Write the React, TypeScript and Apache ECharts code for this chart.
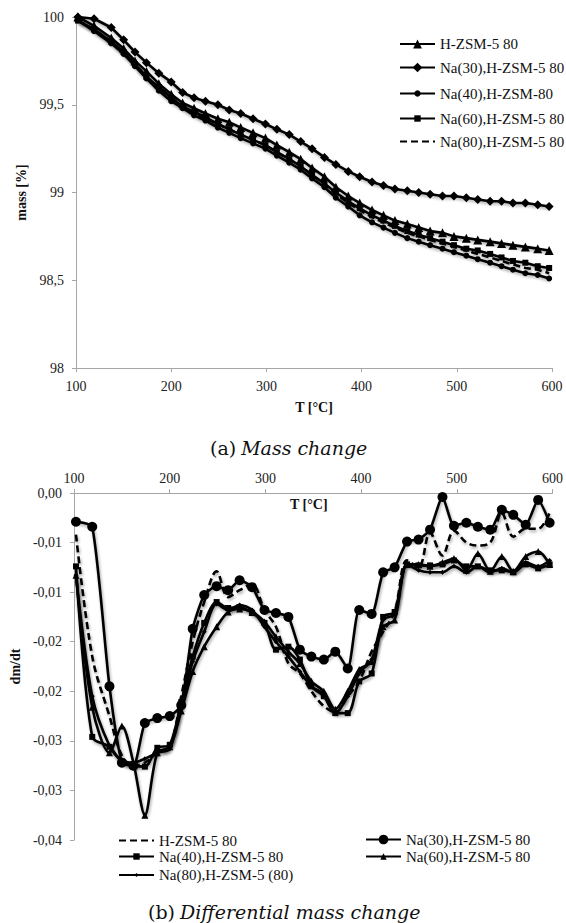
import React, { useEffect, useRef } from "react";
import * as echarts from "echarts";

// ---------- DATA ----------
const temps = [102, 119, 137, 150, 162, 174, 187, 200, 212, 224, 236, 249, 261, 273, 286, 299, 311, 324, 336, 348, 361, 373, 386, 398, 411, 423, 435, 448, 460, 472, 485, 497, 510, 522, 535, 547, 559, 572, 585, 597];

// (a) mass [%]
const massH = [100.0, 99.95, 99.88, 99.82, 99.75, 99.69, 99.62, 99.56, 99.51, 99.48, 99.45, 99.42, 99.4, 99.37, 99.34, 99.31, 99.27, 99.23, 99.19, 99.14, 99.09, 99.03, 98.98, 98.94, 98.9, 98.87, 98.84, 98.82, 98.8, 98.78, 98.77, 98.75, 98.74, 98.73, 98.72, 98.71, 98.7, 98.69, 98.68, 98.67];
const massNa30 = [100.0, 99.99, 99.94, 99.87, 99.8, 99.74, 99.68, 99.63, 99.57, 99.54, 99.52, 99.5, 99.47, 99.45, 99.42, 99.39, 99.36, 99.33, 99.29, 99.25, 99.2, 99.16, 99.12, 99.09, 99.06, 99.04, 99.02, 99.01, 99.0, 98.99, 98.98, 98.98, 98.97, 98.96, 98.95, 98.95, 98.94, 98.94, 98.93, 98.92];
const massNa40 = [99.98, 99.92, 99.85, 99.79, 99.72, 99.65, 99.58, 99.52, 99.48, 99.44, 99.41, 99.37, 99.34, 99.31, 99.28, 99.25, 99.21, 99.17, 99.13, 99.08, 99.03, 98.97, 98.92, 98.87, 98.83, 98.8, 98.77, 98.74, 98.72, 98.7, 98.68, 98.66, 98.64, 98.62, 98.6, 98.58, 98.56, 98.54, 98.53, 98.51];
const massNa60 = [99.98, 99.93, 99.86, 99.8, 99.73, 99.66, 99.6, 99.54, 99.49, 99.46, 99.43, 99.39, 99.36, 99.33, 99.3, 99.27, 99.23, 99.19, 99.15, 99.1, 99.05, 99.0, 98.95, 98.91, 98.87, 98.84, 98.81, 98.78, 98.76, 98.74, 98.72, 98.7, 98.68, 98.67, 98.65, 98.63, 98.61, 98.6, 98.58, 98.57];
const massNa80 = [99.98, 99.93, 99.86, 99.8, 99.73, 99.66, 99.6, 99.54, 99.49, 99.45, 99.42, 99.39, 99.36, 99.33, 99.3, 99.27, 99.23, 99.19, 99.15, 99.1, 99.05, 98.99, 98.94, 98.9, 98.86, 98.83, 98.8, 98.77, 98.75, 98.73, 98.71, 98.69, 98.67, 98.65, 98.63, 98.61, 98.59, 98.57, 98.56, 98.54];

// (b) dm/dt
const dmH = [-0.0042, -0.0165, -0.0225, -0.0265, -0.0275, -0.0272, -0.0262, -0.0256, -0.0205, -0.015, -0.011, -0.0079, -0.0105, -0.0098, -0.0092, -0.0118, -0.0135, -0.0172, -0.0182, -0.02, -0.0215, -0.0221, -0.0205, -0.019, -0.016, -0.014, -0.012, -0.0068, -0.0075, -0.004, -0.0063, -0.0038, -0.005, -0.0053, -0.005, -0.002, -0.0044, -0.0036, -0.0036, -0.002];
const dmNa30 = [-0.0029, -0.0034, -0.0195, -0.0272, -0.0275, -0.0232, -0.0227, -0.0225, -0.0214, -0.0137, -0.0103, -0.0094, -0.0098, -0.0088, -0.0095, -0.0118, -0.0121, -0.0125, -0.0158, -0.0165, -0.0168, -0.016, -0.0177, -0.0118, -0.0122, -0.008, -0.0075, -0.0049, -0.0047, -0.0037, -0.0004, -0.0033, -0.003, -0.0034, -0.0037, -0.0017, -0.0022, -0.0032, -0.0007, -0.003];
const dmNa40 = [-0.0074, -0.0246, -0.0256, -0.0271, -0.0275, -0.0276, -0.0257, -0.0254, -0.0211, -0.0165, -0.0131, -0.011, -0.0116, -0.0115, -0.0121, -0.0131, -0.0158, -0.0155, -0.0168, -0.0195, -0.0205, -0.0222, -0.0222, -0.019, -0.0182, -0.0125, -0.012, -0.0072, -0.0073, -0.0073, -0.0072, -0.0068, -0.0074, -0.0074, -0.0078, -0.0078, -0.008, -0.0072, -0.0076, -0.0072];
const dmNa60 = [-0.0083, -0.0216, -0.0262, -0.0235, -0.0272, -0.0325, -0.0262, -0.0256, -0.022, -0.018, -0.0155, -0.0135, -0.012, -0.0117, -0.012, -0.013, -0.0145, -0.016, -0.0172, -0.019, -0.02, -0.0218, -0.02, -0.0178, -0.017, -0.0135, -0.0128, -0.0072, -0.0072, -0.0074, -0.007, -0.0066, -0.0078, -0.0061, -0.0079, -0.0064, -0.0079, -0.0064, -0.0059, -0.0072];
const dmNa80 = [-0.0083, -0.0205, -0.0255, -0.027, -0.0272, -0.0268, -0.0262, -0.0258, -0.0215, -0.017, -0.014, -0.0112, -0.0118, -0.0113, -0.0118, -0.0135, -0.015, -0.0165, -0.018, -0.0195, -0.0203, -0.0222, -0.0205, -0.0182, -0.0168, -0.0128, -0.0122, -0.0072, -0.0078, -0.008, -0.008, -0.0074, -0.008, -0.0074, -0.008, -0.0076, -0.008, -0.007, -0.0074, -0.0068];

const dmTickLabels = ["0,00", "-0,01", "-0,01", "-0,02", "-0,02", "-0,03", "-0,03", "-0,04"];

// ---------- STYLE ----------
const SERIF = "'Liberation Serif', 'DejaVu Serif', serif";
const CAP = "'DejaVu Serif', serif";
const AX = "#a6a6a6";
const shadow = { shadowColor: "rgba(0,0,0,0.35)", shadowBlur: 3, shadowOffsetX: 1, shadowOffsetY: 2 };

const pairs = (xs: number[], ys: number[]) => xs.map((x, i) => [x, ys[i]]);

function lineSeries(name: string, vals: number[], symbol: string, size: number, dashed = false, smooth: number | boolean = false) {
  return {
    type: "line",
    name,
    data: pairs(temps, vals),
    symbol: symbol,
    symbolSize: size,
    showSymbol: size > 0,
    smooth,
    itemStyle: { color: "#000" },
    lineStyle: { color: "#000", width: 2.6, type: dashed ? [7, 4] : "solid", ...shadow },
  };
}

const axisText = { fontFamily: SERIF, fontSize: 14, color: "#222" };
const nameText = { fontFamily: SERIF, fontSize: 14, fontWeight: "bold", color: "#111" };
const legendText = { fontFamily: SERIF, fontSize: 15, color: "#111" };

// one legend per entry, so that each marker keeps its own size (marker = 0.8 * itemHeight)
function lg(name: string, left: number, centerY: number, h: number, hideSymbol = false) {
  return {
    left,
    top: centerY - h / 2,
    padding: 0,
    itemWidth: 35,
    itemHeight: h,
    textStyle: legendText,
    data: [hideSymbol ? { name, itemStyle: { color: "rgba(0,0,0,0)", borderWidth: 0 } } : name],
  };
}

const caption = (tag: string, words: string, left: number, top: number) => ({
  text: `{a|${tag}} {b|${words}}`,
  left,
  top,
  padding: 0,
  textStyle: {
    fontWeight: "normal",
    rich: {
      a: { fontFamily: CAP, fontSize: 19, fontWeight: "normal", color: "#111" },
      b: { fontFamily: CAP, fontSize: 19, fontWeight: "normal", fontStyle: "italic", color: "#111" },
    },
  },
});

function topOption() {
  return {
    animation: false,
    backgroundColor: "#fff",
    title: caption("(a)", "Mass change", 210, 438),
    grid: { left: 76, top: 17, width: 476, height: 351 },
    xAxis: {
      type: "value",
      min: 100,
      max: 600,
      interval: 100,
      name: "T [°C]",
      nameLocation: "middle",
      nameGap: 32,
      nameTextStyle: nameText,
      axisLine: { lineStyle: { color: AX, width: 1 } },
      axisTick: { length: 4, lineStyle: { color: AX } },
      axisLabel: { ...axisText, margin: 11 },
      splitLine: { show: false },
    },
    yAxis: {
      type: "value",
      min: 98,
      max: 100,
      interval: 0.5,
      name: "mass [%]",
      nameLocation: "middle",
      nameGap: 38,
      nameTextStyle: nameText,
      axisLine: { show: true, lineStyle: { color: AX, width: 1 } },
      axisTick: { show: true, length: 4, lineStyle: { color: AX } },
      axisLabel: { ...axisText, margin: 12, formatter: (v: number) => String(v).replace(".", ",") },
      splitLine: { show: false },
    },
    legend: [
      lg("H-ZSM-5 80", 399, 42, 11),
      lg("Na(30),H-ZSM-5 80", 399, 66, 12),
      lg("Na(40),H-ZSM-80", 399, 90, 8),
      lg("Na(60),H-ZSM-5 80", 399, 115, 8),
      lg("Na(80),H-ZSM-5 80", 399, 139, 10, true),
    ],
    series: [
      lineSeries("Na(80),H-ZSM-5 80", massNa80, "circle", 0, true),
      lineSeries("Na(60),H-ZSM-5 80", massNa60, "rect", 6),
      lineSeries("Na(40),H-ZSM-80", massNa40, "circle", 6),
      lineSeries("H-ZSM-5 80", massH, "triangle", 9),
      lineSeries("Na(30),H-ZSM-5 80", massNa30, "diamond", 9),
    ],
  };
}

function bottomOption() {
  return {
    animation: false,
    backgroundColor: "#fff",
    title: caption("(b)", "Differential mass change", 148, 442),
    grid: { left: 66, top: 33, width: 488, height: 347 },
    graphic: [
      {
        type: "text",
        left: 290,
        top: 37,
        style: { text: "T [°C]", font: "bold 14px 'Liberation Serif', serif", fill: "#111" },
      },
    ],
    xAxis: {
      type: "value",
      position: "top",
      min: 100,
      max: 600,
      interval: 100,
      axisLine: { lineStyle: { color: AX, width: 1 } },
      axisTick: { length: 4, lineStyle: { color: AX } },
      axisLabel: { ...axisText, margin: 8 },
      splitLine: { show: false },
    },
    yAxis: {
      type: "value",
      min: -0.035,
      max: 0,
      interval: 0.005,
      name: "dm/dt",
      nameLocation: "middle",
      nameGap: 39,
      nameTextStyle: nameText,
      axisLine: { show: true, onZero: false, lineStyle: { color: AX, width: 1 } },
      axisTick: { show: true, length: 4, lineStyle: { color: AX } },
      axisLabel: {
        ...axisText,
        margin: 12,
        formatter: (v: number) => dmTickLabels[Math.round(-v / 0.005)] ?? "",
      },
      splitLine: { show: false },
    },
    legend: [
      lg("H-ZSM-5 80", 118, 378, 10, true),
      lg("Na(30),H-ZSM-5 80", 365, 378, 12),
      lg("Na(40),H-ZSM-5 80", 118, 393, 8),
      lg("Na(60),H-ZSM-5 80", 365, 393, 8),
      lg("Na(80),H-ZSM-5 (80)", 118, 410, 5),
    ],
    series: [
      lineSeries("H-ZSM-5 80", dmH, "circle", 0, true, 0.35),
      lineSeries("Na(40),H-ZSM-5 80", dmNa40, "rect", 6, false, 0.3),
      lineSeries("Na(60),H-ZSM-5 80", dmNa60, "triangle", 7, false, 0.3),
      lineSeries("Na(80),H-ZSM-5 (80)", dmNa80, "diamond", 5, false, 0.3),
      lineSeries("Na(30),H-ZSM-5 80", dmNa30, "circle", 10, false, 0.2),
    ],
  };
}

function Chart({ option, top, height }: { option: any; top: number; height: number }) {
  const ref = useRef<HTMLDivElement>(null);
  useEffect(() => {
    if (!ref.current) return;
    const chart = echarts.init(ref.current, undefined, { renderer: "svg" });
    chart.setOption(option);
    return () => chart.dispose();
  }, [option]);
  return <div ref={ref} style={{ position: "absolute", left: 0, top, width: 566, height }} />;
}

const optA = topOption();
const optB = bottomOption();

export default function App() {
  return (
    <div style={{ position: "absolute", left: 0, top: 0, width: 566, height: 923, background: "#fff", overflow: "hidden" }}>
      <Chart option={optA} top={0} height={460} />
      <Chart option={optB} top={460} height={463} />
    </div>
  );
}
